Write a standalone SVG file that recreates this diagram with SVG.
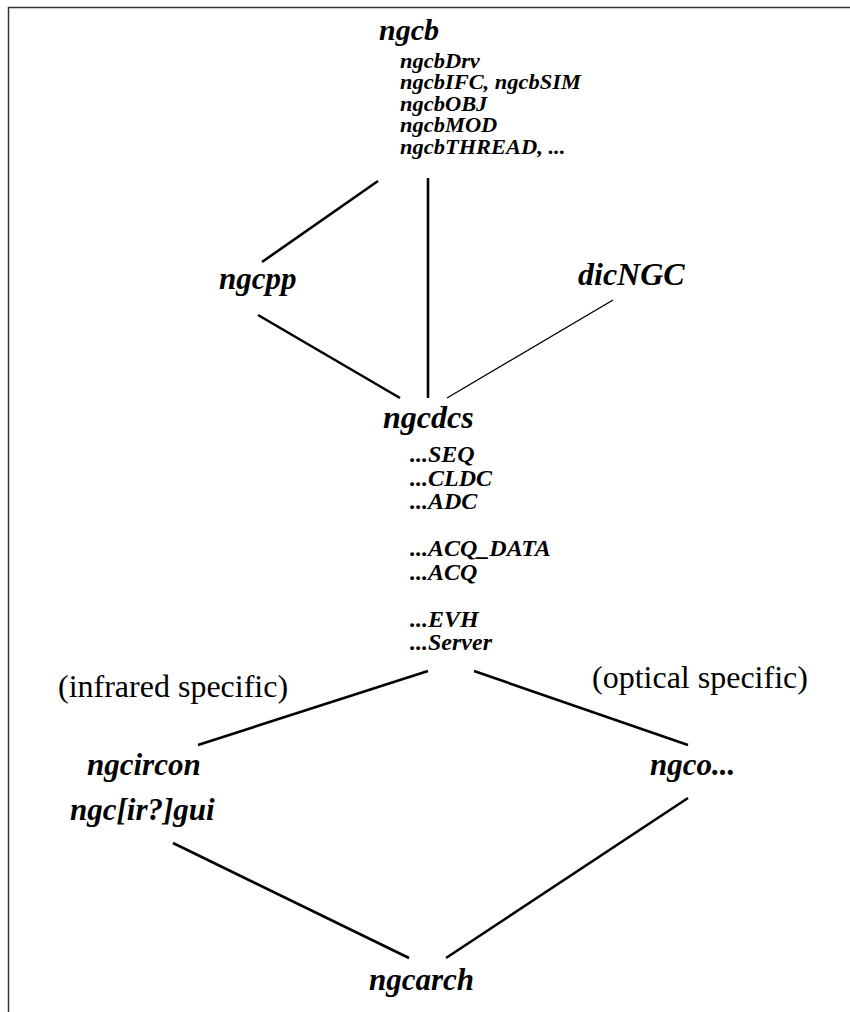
<svg xmlns="http://www.w3.org/2000/svg" width="850" height="1012" viewBox="0 0 850 1012">
  <style>
    .frame { fill: none; stroke: #333; stroke-width: 1.5; }
    .link { stroke: #000; stroke-width: 2.6; fill: none; }
    .link.thin { stroke-width: 1.4; }
    .label { font-family: "Liberation Serif", "Times New Roman", serif; font-style: italic; font-weight: bold; fill: #000; }
    .big { font-size: 31px; }
    .sub { font-size: 21px; }
    .sub2 { font-size: 24px; }
    .note { font-family: "Liberation Serif", "Times New Roman", serif; font-size: 32px; fill: #000; }
  </style>
  <rect width="850" height="1012" fill="#fff"/>
  <!-- open frame: top and left edges only -->
  <path class="frame" d="M8.5 1012 V7.5 H850"/>

  <g id="connectors">
    <line class="link" x1="378" y1="181" x2="262" y2="262"/>
    <line class="link" x1="428" y1="178" x2="428" y2="398"/>
    <line class="link" x1="258" y1="315" x2="400" y2="398"/>
    <line class="link thin" x1="613" y1="300" x2="447" y2="398"/>
    <line class="link" x1="428" y1="671" x2="198" y2="745"/>
    <line class="link" x1="474" y1="671" x2="688" y2="745"/>
    <line class="link" x1="173" y1="843" x2="409" y2="958"/>
    <line class="link" x1="688" y1="798" x2="446" y2="958"/>
  </g>

  <g id="ngcb">
    <text class="label big" x="379" y="40" style="font-size:30px">ngcb</text>
    <!-- module list, slightly widened type -->
    <g transform="translate(400 0) scale(1.07 1) translate(-400 0)">
      <text class="label sub" x="400" y="68">ngcbDrv</text>
      <text class="label sub" x="400" y="89.5">ngcbIFC, ngcbSIM</text>
      <text class="label sub" x="400" y="111">ngcbOBJ</text>
      <text class="label sub" x="400" y="132.5">ngcbMOD</text>
      <text class="label sub" x="400" y="154">ngcbTHREAD, ...</text>
    </g>
  </g>

  <g id="ngcpp">
    <text class="label big" x="219" y="289">ngcpp</text>
  </g>

  <g id="dicNGC">
    <text class="label big" x="578" y="285" style="font-size:32px">dicNGC</text>
  </g>

  <g id="ngcdcs">
    <text class="label big" x="383" y="428" style="font-size:32px">ngcdcs</text>
    <text class="label sub2" x="410" y="462">...SEQ</text>
    <text class="label sub2" x="410" y="485.5">...CLDC</text>
    <text class="label sub2" x="410" y="509">...ADC</text>
    <text class="label sub2" x="410" y="556">...ACQ_DATA</text>
    <text class="label sub2" x="410" y="579.5">...ACQ</text>
    <text class="label sub2" x="410" y="626.5">...EVH</text>
    <text class="label sub2" x="410" y="650">...Server</text>
  </g>

  <g id="infrared-note">
    <text class="note" x="58" y="697">(infrared specific)</text>
  </g>
  <g id="optical-note">
    <text class="note" x="592" y="688">(optical specific)</text>
  </g>

  <g id="ngcircon">
    <text class="label big" x="87" y="775">ngcircon</text>
    <text class="label big" x="70" y="820">ngc[ir?]gui</text>
  </g>

  <g id="ngco">
    <text class="label big" x="650" y="775">ngco...</text>
  </g>

  <g id="ngcarch">
    <text class="label big" x="369" y="990">ngcarch</text>
  </g>
</svg>
